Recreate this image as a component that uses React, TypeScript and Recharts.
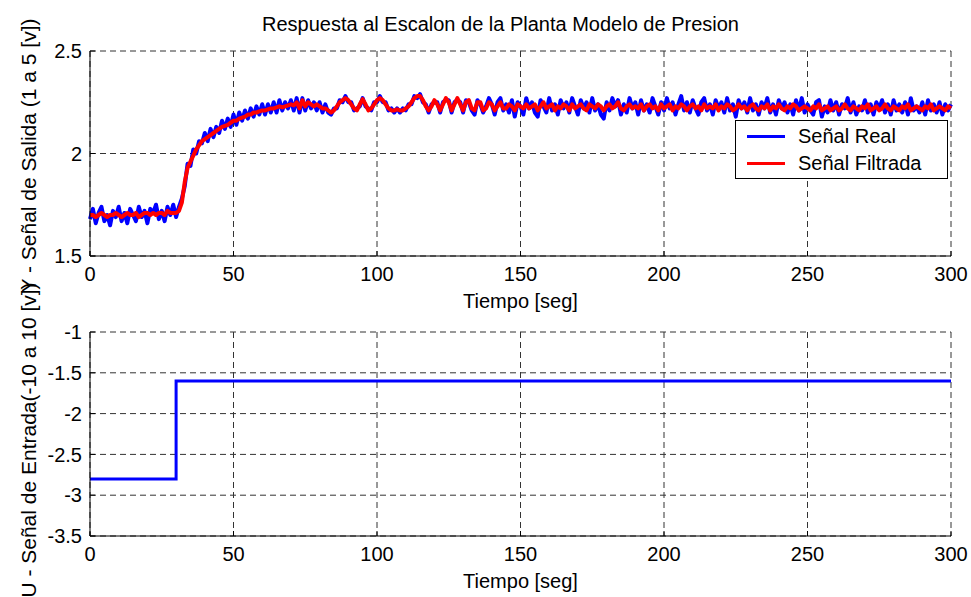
import React from 'react';
import { LineChart, Line, XAxis, YAxis, CartesianGrid, Legend } from 'recharts';

const FONT = '"Liberation Sans", Arial, Helvetica, sans-serif';

// Axis ticks
const timeTicks = [0, 50, 100, 150, 200, 250, 300];
const outputTicks = [1.5, 2, 2.5];
const inputTicks = [-3.5, -3, -2.5, -2, -1.5, -1];

// Series names, in legend order
const seriesNames = ['Señal Real', 'Señal Filtrada'];

// Measured plant output, one sample per second (0..300 s)
const realSignal = [
  1.68, 1.73, 1.66, 1.71, 1.74, 1.67, 1.70, 1.65, 1.72, 1.69,
  1.74, 1.67, 1.71, 1.66, 1.73, 1.70, 1.67, 1.74, 1.69, 1.72,
  1.66, 1.73, 1.71, 1.75, 1.68, 1.72, 1.67, 1.74, 1.70, 1.75,
  1.69, 1.74, 1.78, 1.84, 1.95, 1.94, 2.02, 2.00, 2.06, 2.05,
  2.10, 2.06, 2.12, 2.08, 2.13, 2.10, 2.16, 2.12, 2.17, 2.13,
  2.19, 2.14, 2.20, 2.16, 2.21, 2.17, 2.22, 2.18, 2.23, 2.19,
  2.24, 2.19, 2.24, 2.20, 2.25, 2.20, 2.26, 2.21, 2.25, 2.22,
  2.26, 2.21, 2.27, 2.20, 2.27, 2.21, 2.26, 2.22, 2.25, 2.21,
  2.25, 2.20, 2.24, 2.20, 2.19, 2.22, 2.22, 2.26, 2.25, 2.28,
  2.25, 2.25, 2.21, 2.22, 2.23, 2.27, 2.23, 2.22, 2.21, 2.25,
  2.25, 2.28, 2.25, 2.25, 2.21, 2.22, 2.20, 2.22, 2.20, 2.22,
  2.21, 2.24, 2.24, 2.28, 2.27, 2.29, 2.25, 2.24, 2.20, 2.24,
  2.25, 2.25, 2.20, 2.25, 2.26, 2.26, 2.20, 2.25, 2.26, 2.25,
  2.20, 2.26, 2.25, 2.21, 2.19, 2.26, 2.24, 2.20, 2.23, 2.27,
  2.24, 2.19, 2.25, 2.27, 2.21, 2.24, 2.20, 2.26, 2.18, 2.25,
  2.23, 2.19, 2.27, 2.22, 2.25, 2.20, 2.18, 2.26, 2.23, 2.20,
  2.27, 2.21, 2.24, 2.19, 2.26, 2.22, 2.25, 2.20, 2.27, 2.23,
  2.19, 2.26, 2.22, 2.25, 2.20, 2.27, 2.21, 2.24, 2.19, 2.17,
  2.25, 2.21, 2.27, 2.23, 2.26, 2.19, 2.24, 2.20, 2.27, 2.22,
  2.25, 2.19, 2.26, 2.21, 2.24, 2.20, 2.27, 2.23, 2.19, 2.25,
  2.21, 2.27, 2.22, 2.25, 2.19, 2.24, 2.28, 2.21, 2.25, 2.20,
  2.26, 2.22, 2.19, 2.25, 2.27, 2.21, 2.24, 2.19, 2.26, 2.22,
  2.25, 2.20, 2.27, 2.21, 2.24, 2.18, 2.26, 2.22, 2.25, 2.20,
  2.27, 2.21, 2.24, 2.19, 2.25, 2.22, 2.27, 2.20, 2.24, 2.19,
  2.26, 2.22, 2.25, 2.20, 2.24, 2.19, 2.26, 2.21, 2.27, 2.20,
  2.24, 2.21, 2.19, 2.25, 2.26, 2.18, 2.23, 2.20, 2.26, 2.21,
  2.25, 2.19, 2.24, 2.22, 2.27, 2.20, 2.25, 2.19, 2.23, 2.21,
  2.26, 2.20, 2.24, 2.19, 2.25, 2.22, 2.26, 2.20, 2.24, 2.19,
  2.26, 2.21, 2.24, 2.20, 2.25, 2.19, 2.27, 2.21, 2.23, 2.20,
  2.25, 2.19, 2.26, 2.21, 2.24, 2.20, 2.25, 2.19, 2.24, 2.21,
  2.24,
];

// Filtered plant output, same sampling
const filteredSignal = [
  1.70, 1.70, 1.69, 1.70, 1.71, 1.70, 1.69, 1.70, 1.70, 1.71,
  1.70, 1.69, 1.70, 1.71, 1.70, 1.70, 1.71, 1.69, 1.70, 1.71,
  1.71, 1.70, 1.71, 1.70, 1.71, 1.71, 1.70, 1.72, 1.71, 1.71,
  1.71, 1.72, 1.76, 1.86, 1.93, 1.96, 1.99, 2.02, 2.04, 2.06,
  2.07, 2.08, 2.09, 2.10, 2.11, 2.12, 2.13, 2.135, 2.14, 2.15,
  2.16, 2.16, 2.17, 2.175, 2.18, 2.19, 2.19, 2.20, 2.20, 2.205,
  2.21, 2.21, 2.215, 2.22, 2.22, 2.225, 2.23, 2.225, 2.23, 2.235,
  2.24, 2.235, 2.25, 2.22, 2.26, 2.23, 2.25, 2.24, 2.23, 2.24,
  2.23, 2.22, 2.22, 2.21, 2.20, 2.21, 2.23, 2.25, 2.26, 2.27,
  2.26, 2.24, 2.22, 2.21, 2.24, 2.265, 2.24, 2.21, 2.22, 2.24,
  2.26, 2.27, 2.26, 2.24, 2.22, 2.21, 2.21, 2.215, 2.21, 2.21,
  2.22, 2.23, 2.25, 2.27, 2.28, 2.28, 2.26, 2.23, 2.21, 2.23,
  2.26, 2.24, 2.21, 2.24, 2.27, 2.25, 2.21, 2.24, 2.27, 2.24,
  2.21, 2.25, 2.26, 2.22, 2.21, 2.25, 2.25, 2.21, 2.22, 2.25,
  2.24, 2.21, 2.23, 2.25, 2.22, 2.22, 2.24, 2.23, 2.21, 2.24,
  2.23, 2.22, 2.24, 2.22, 2.23, 2.24, 2.21, 2.23, 2.25, 2.22,
  2.23, 2.24, 2.21, 2.23, 2.22, 2.24, 2.23, 2.21, 2.24, 2.22,
  2.23, 2.24, 2.22, 2.21, 2.24, 2.23, 2.22, 2.24, 2.23, 2.21,
  2.23, 2.24, 2.22, 2.23, 2.25, 2.22, 2.21, 2.23, 2.24, 2.22,
  2.23, 2.22, 2.24, 2.21, 2.23, 2.24, 2.22, 2.23, 2.21, 2.24,
  2.22, 2.23, 2.24, 2.21, 2.23, 2.22, 2.24, 2.23, 2.21, 2.23,
  2.24, 2.22, 2.23, 2.21, 2.24, 2.22, 2.23, 2.22, 2.24, 2.21,
  2.23, 2.22, 2.24, 2.23, 2.21, 2.22, 2.24, 2.22, 2.23, 2.21,
  2.23, 2.24, 2.22, 2.21, 2.23, 2.22, 2.24, 2.21, 2.23, 2.22,
  2.24, 2.22, 2.21, 2.23, 2.22, 2.24, 2.23, 2.21, 2.22, 2.23,
  2.22, 2.21, 2.23, 2.22, 2.24, 2.21, 2.22, 2.23, 2.21, 2.22,
  2.23, 2.21, 2.22, 2.24, 2.22, 2.21, 2.23, 2.22, 2.21, 2.23,
  2.22, 2.24, 2.21, 2.22, 2.23, 2.21, 2.22, 2.24, 2.22, 2.21,
  2.23, 2.22, 2.21, 2.23, 2.22, 2.24, 2.21, 2.22, 2.23, 2.22,
  2.21, 2.23, 2.22, 2.24, 2.21, 2.22, 2.23, 2.22, 2.21, 2.23,
  2.22,
];

// Input step applied to the plant
const stepTimes = [0, 30, 300];
const stepInput = [-2.8, -1.6, -1.6];

const outputRows = realSignal.map((v, i) => ({ t: i, real: v, filtered: filteredSignal[i] }));
const inputRows = stepTimes.map((t, i) => ({ t, u: stepInput[i] }));

const tickStyle = { fill: '#000', fontSize: 20, fontFamily: FONT };
const gridColor = '#333';

const XLabel = (props: any) => {
  const vb = props.viewBox || {};
  return (
    <text x={vb.x + vb.width / 2} y={vb.y + 52} textAnchor="middle" fontSize={20} fontFamily={FONT} fill="#000">
      Tiempo [seg]
    </text>
  );
};

const makeYLabel = (text: string, shift: number) => (props: any) => {
  const vb = props.viewBox || {};
  const cx = 36;
  const cy = vb.y + vb.height / 2 + shift;
  return (
    <text x={cx} y={cy} transform={`rotate(-90 ${cx} ${cy})`} textAnchor="middle" fontSize={21} fontFamily={FONT} fill="#000">
      {text}
    </text>
  );
};

const LegendBox = (props: any) => {
  const payload = [...(props.payload || [])].sort(
    (a: any, b: any) => seriesNames.indexOf(a.value) - seriesNames.indexOf(b.value)
  );
  return (
    <div
      style={{
        width: 213,
        height: 59,
        boxSizing: 'border-box',
        border: '1px solid #000',
        background: '#fff',
        paddingTop: 2,
        fontFamily: FONT,
        fontSize: 20,
        color: '#000',
      }}
    >
      {payload.map((p: any) => (
        <div key={p.value} style={{ height: 27, display: 'flex', alignItems: 'center' }}>
          <div style={{ marginLeft: 11, width: 38, height: 3, background: p.color }} />
          <span style={{ marginLeft: 13, lineHeight: '27px' }}>{p.value}</span>
        </div>
      ))}
    </div>
  );
};

const frameAxes = (domainX: number[], xTicks: number[], domainY: number[], yTicks: number[]) => [
  <XAxis
    key="xt"
    xAxisId="top"
    orientation="top"
    dataKey="t"
    type="number"
    domain={domainX}
    ticks={xTicks}
    height={0}
    tick={false}
    tickSize={-5}
    axisLine={{ stroke: '#000' }}
    tickLine={{ stroke: '#000' }}
  />,
  <YAxis
    key="yr"
    yAxisId="right"
    orientation="right"
    type="number"
    domain={domainY}
    ticks={yTicks}
    width={0}
    tick={false}
    tickSize={-5}
    axisLine={{ stroke: '#000' }}
    tickLine={{ stroke: '#000' }}
  />,
];

export default function App() {
  return (
    <div style={{ position: 'absolute', left: 0, top: 0, width: 971, height: 597, background: '#fff', overflow: 'hidden' }}>
      <div
        style={{
          position: 'absolute',
          left: 70,
          top: 12,
          width: 861,
          textAlign: 'center',
          fontFamily: FONT,
          fontSize: 20,
          lineHeight: '24px',
          color: '#000',
        }}
      >
        Respuesta al Escalon de la Planta Modelo de Presion
      </div>
      <div style={{ position: 'absolute', left: 0, top: 0 }}>
        <LineChart width={971} height={320} data={outputRows} margin={{ top: 51, right: 20, bottom: 0, left: 30 }}>
          <CartesianGrid stroke={gridColor} strokeDasharray="6 4" />
          <XAxis
            dataKey="t"
            type="number"
            domain={[0, 300]}
            ticks={timeTicks}
            interval={0}
            height={64}
            tickSize={-5}
            tickMargin={16}
            tick={tickStyle}
            axisLine={{ stroke: '#000' }}
            tickLine={{ stroke: '#000' }}
            label={{ content: XLabel }}
          />
          <YAxis
            type="number"
            domain={[1.5, 2.5]}
            ticks={outputTicks}
            interval={0}
            width={60}
            tickSize={-5}
            tickMargin={13}
            tick={tickStyle}
            tickFormatter={(v: number) => String(v)}
            axisLine={{ stroke: '#000' }}
            tickLine={{ stroke: '#000' }}
            label={{ content: makeYLabel('Y - Señal de Salida (1 a 5 [v])', 2) }}
          />
          {frameAxes([0, 300], timeTicks, [1.5, 2.5], outputTicks)}
          <Line
            name={seriesNames[0]}
            dataKey="real"
            stroke="#0000ff"
            strokeWidth={4}
            dot={false}
            strokeLinejoin="round"
            isAnimationActive={false}
          />
          <Line
            name={seriesNames[1]}
            dataKey="filtered"
            stroke="#ff0000"
            strokeWidth={4}
            dot={false}
            strokeLinejoin="round"
            isAnimationActive={false}
          />
          <Legend
            layout="horizontal"
            verticalAlign="middle"
            align="center"
            wrapperStyle={{ left: 735, top: 120, width: 213, height: 59 }}
            content={LegendBox}
          />
        </LineChart>
      </div>
      <div style={{ position: 'absolute', left: 0, top: 282 }}>
        <LineChart width={971} height={315} data={inputRows} margin={{ top: 50, right: 20, bottom: 0, left: 30 }}>
          <CartesianGrid stroke={gridColor} strokeDasharray="6 4" />
          <XAxis
            dataKey="t"
            type="number"
            domain={[0, 300]}
            ticks={timeTicks}
            interval={0}
            height={61}
            tickSize={-5}
            tickMargin={16}
            tick={tickStyle}
            axisLine={{ stroke: '#000' }}
            tickLine={{ stroke: '#000' }}
            label={{ content: XLabel }}
          />
          <YAxis
            type="number"
            domain={[-3.5, -1]}
            ticks={inputTicks}
            interval={0}
            width={60}
            tickSize={-5}
            tickMargin={13}
            tick={tickStyle}
            tickFormatter={(v: number) => String(v)}
            axisLine={{ stroke: '#000' }}
            tickLine={{ stroke: '#000' }}
            label={{ content: makeYLabel('U - Señal de Entrada(-10 a 10 [v])', 6) }}
          />
          {frameAxes([0, 300], timeTicks, [-3.5, -1], inputTicks)}
          <Line
            type="stepAfter"
            dataKey="u"
            stroke="#0000ff"
            strokeWidth={3}
            dot={false}
            isAnimationActive={false}
          />
        </LineChart>
      </div>
    </div>
  );
}
